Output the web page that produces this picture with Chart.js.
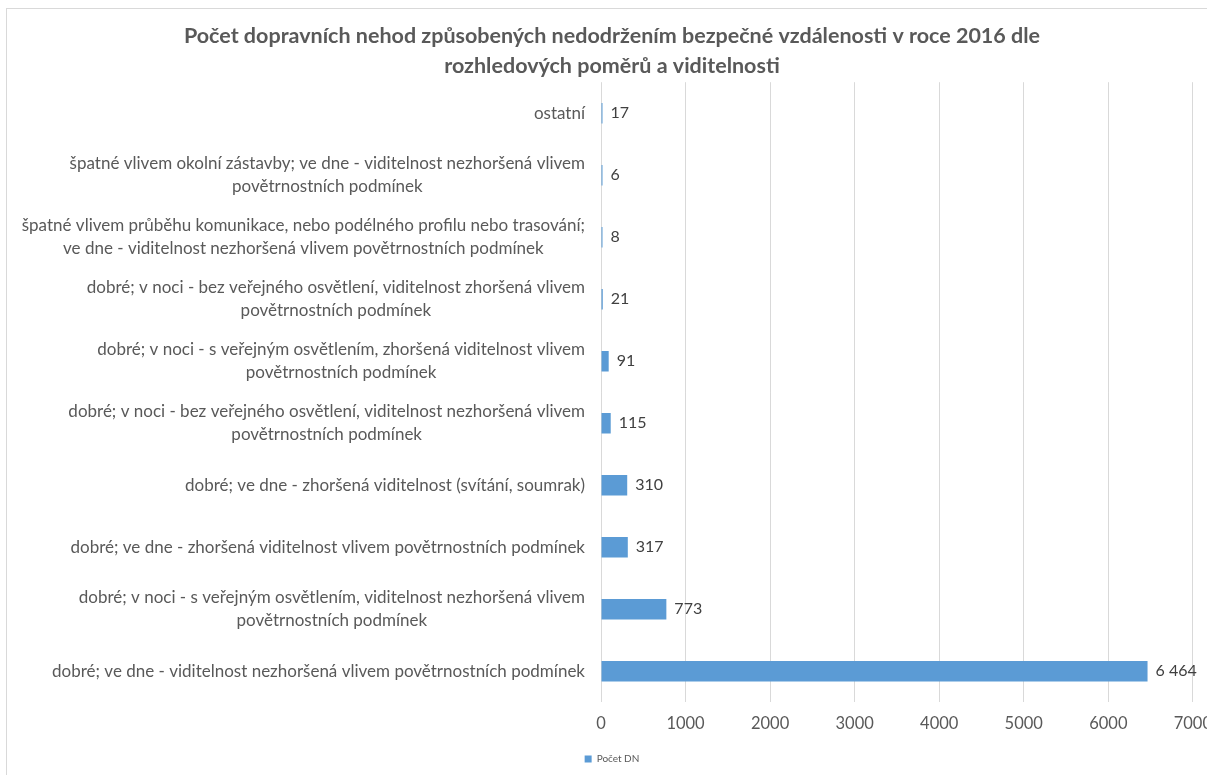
<!DOCTYPE html>
<html lang="cs">
<head>
<meta charset="utf-8">
<title>Počet DN 2016</title>
<script src="https://cdn.jsdelivr.net/npm/chart.js@4.4.1/dist/chart.umd.min.js"></script>
<style>
    html, body { margin: 0; padding: 0; background: #fff; overflow: hidden; }
    #ramecek {
        position: absolute; left: 6px; top: 8px; width: 1300px; height: 900px;
        border: 1px solid #d9d9d9; box-sizing: border-box;
    }
    #obal { position: absolute; left: 0; top: 0; width: 1224px; height: 775px; }
</style>
</head>
<body>
<div id="ramecek"></div>
<div id="obal"><canvas id="grafNehody"></canvas></div>
<script>
// shora dolů, jak jsou řádky v grafu
const kategorie = [
    ["ostatní"],
    ["špatné vlivem okolní zástavby; ve dne - viditelnost nezhoršená vlivem", "povětrnostních podmínek"],
    ["špatné vlivem průběhu komunikace, nebo podélného profilu nebo trasování;", "ve dne - viditelnost nezhoršená vlivem povětrnostních podmínek"],
    ["dobré; v noci - bez veřejného osvětlení, viditelnost zhoršená vlivem", "povětrnostních podmínek"],
    ["dobré; v noci - s veřejným osvětlením, zhoršená viditelnost vlivem", "povětrnostních podmínek"],
    ["dobré; v noci - bez veřejného osvětlení, viditelnost nezhoršená vlivem", "povětrnostních podmínek"],
    ["dobré; ve dne - zhoršená viditelnost (svítání, soumrak)"],
    ["dobré; ve dne - zhoršená viditelnost vlivem povětrnostních podmínek"],
    ["dobré; v noci - s veřejným osvětlením, viditelnost nezhoršená vlivem", "povětrnostních podmínek"],
    ["dobré; ve dne - viditelnost nezhoršená vlivem povětrnostních podmínek"]
];
const pocetDN = [17, 6, 8, 21, 91, 115, 310, 317, 773, 6464];
const osaX = { min: 0, max: 7000, krok: 1000 };

const PISMO = "Lato, 'Open Sans', sans-serif";
const SEDA = "#595959";

function formatCislo(n) {
    return String(n).replace(/\B(?=(\d{3})+(?!\d))/g, " ");
}

// popisky kategorií: blok zarovnaný doprava, řádky uvnitř na střed
const popiskyKategorii = {
    id: 'popiskyKategorii',
    afterDraw(chart) {
        const ctx = chart.ctx;
        const osa = chart.scales.y;
        const pravyOkraj = chart.chartArea.left - 16;
        ctx.save();
        ctx.font = "17px " + PISMO;
        ctx.fillStyle = SEDA;
        ctx.textAlign = "center";
        ctx.textBaseline = "middle";
        kategorie.forEach((radky, i) => {
            const y = osa.getPixelForTick(i);
            const sirka = Math.max(...radky.map(r => ctx.measureText(r).width));
            const stred = pravyOkraj - sirka / 2;
            const vyska = 23;
            const zacatek = y - (radky.length - 1) * vyska / 2;
            radky.forEach((r, j) => ctx.fillText(r, stred, zacatek + j * vyska));
        });
        ctx.restore();
    }
};

// hodnoty vedle sloupců
const hodnotySloupcu = {
    id: 'hodnotySloupcu',
    afterDatasetsDraw(chart) {
        const ctx = chart.ctx;
        const meta = chart.getDatasetMeta(0);
        ctx.save();
        ctx.font = "16px " + PISMO;
        ctx.fillStyle = "#404040";
        ctx.textAlign = "left";
        ctx.textBaseline = "middle";
        meta.data.forEach((bar, i) => {
            ctx.fillText(formatCislo(pocetDN[i]), bar.x + 8, bar.y);
        });
        ctx.restore();
    }
};

const ctx = document.getElementById("grafNehody").getContext("2d");

new Chart(ctx, {
    type: 'bar',
    data: {
        labels: kategorie,
        datasets: [{
            label: 'Počet DN',
            data: pocetDN,
            backgroundColor: '#5B9BD5',
            borderWidth: 0,
            minBarLength: 1.5,
            categoryPercentage: 1,
            barPercentage: 0.33
        }]
    },
    options: {
        indexAxis: 'y',
        responsive: true,
        maintainAspectRatio: false,
        animation: false,
        layout: { padding: { left: 0, right: 0, top: 0, bottom: 1 } },
        plugins: {
            title: {
                display: true,
                text: [
                    "Počet dopravních nehod způsobených nedodržením bezpečné vzdálenosti v roce 2016 dle",
                    "rozhledových poměrů a viditelnosti"
                ],
                color: SEDA,
                font: { family: PISMO, size: 21.5, weight: 'bold', lineHeight: 1.4 },
                padding: { top: 21, bottom: 1 }
            },
            legend: {
                display: true,
                position: 'bottom',
                labels: {
                    color: SEDA,
                    font: { family: PISMO, size: 10 },
                    boxWidth: 7,
                    boxHeight: 7,
                    padding: 8
                }
            },
            tooltip: { enabled: false }
        },
        scales: {
            x: {
                min: osaX.min,
                max: osaX.max,
                ticks: {
                    stepSize: osaX.krok,
                    color: SEDA,
                    font: { family: PISMO, size: 16.5 },
                    padding: 12,
                    callback: v => String(v)
                },
                grid: { color: "#d9d9d9", drawTicks: false },
                border: { display: false }
            },
            y: {
                ticks: { display: false },
                grid: { display: false, drawTicks: false },
                border: { display: false },
                afterFit: scale => { scale.width = 601; }
            }
        }
    },
    plugins: [popiskyKategorii, hodnotySloupcu]
});
</script>
</body>
</html>
